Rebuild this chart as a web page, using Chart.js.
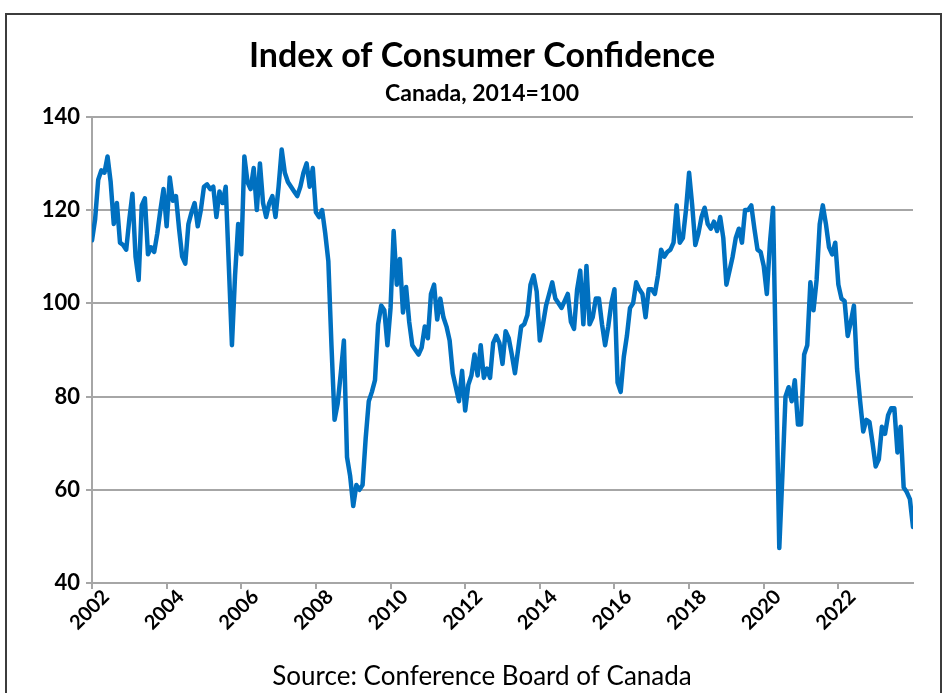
<!DOCTYPE html>
<html><head><meta charset="utf-8">
<script src="https://cdn.jsdelivr.net/npm/chart.js@4/dist/chart.umd.min.js"></script>
<style>
html,body{margin:0;padding:0;background:#fff;width:944px;height:693px;overflow:hidden;}
#wrap{position:absolute;left:0;top:0;width:944px;height:693px;}
#frame{position:absolute;left:5px;top:13px;width:937px;height:720px;border:2px solid #3c3c3c;box-sizing:border-box;pointer-events:none;}
</style></head><body>
<div id="wrap"><canvas id="c" width="944" height="693"></canvas></div>
<div id="frame"></div>
<script>
const chartTitle = 'Index of Consumer Confidence';
const chartSubtitle = 'Canada, 2014=100';
const sourceNote = 'Source: Conference Board of Canada';
const tickLabels = ['2002','2004','2006','2008','2010','2012','2014','2016','2018','2020','2022'];

// Monthly index values (2014=100)
const y2002 = [113.5, 118, 126.5, 128.5, 128, 131.5, 126, 117, 121.5, 113, 112.5, 111.5];
const y2003 = [118, 123.5, 110, 105, 121, 122.5, 110.5, 112, 111, 115, 120, 124.5];
const y2004 = [116.5, 127, 122, 123, 116, 110, 108.5, 117, 119.5, 121.5, 116.5, 120];
const y2005 = [125, 125.5, 124.5, 125, 118.5, 124, 121.5, 125, 108, 91, 106, 117];
const y2006 = [110.5, 131.5, 126, 124.5, 129, 120, 130, 121.5, 118.5, 121.5, 123, 118.5];
const y2007 = [125, 133, 128, 126, 125, 124, 123, 125, 128, 130, 125, 129];
const y2008 = [119.5, 118.5, 120, 115, 109, 91, 75, 78.5, 85, 92, 67, 63];
const y2009 = [56.5, 61, 60, 61, 71, 79, 81, 83.5, 95.5, 99.5, 98.5, 91];
const y2010 = [99, 115.5, 104, 109.5, 98, 103.5, 96, 91, 90, 89, 90.5, 95];
const y2011 = [92.5, 102, 104, 96.5, 101, 97, 95, 92, 85, 82, 79, 85.5];
const y2012 = [77, 82.5, 84.5, 89, 84.5, 91, 84, 86, 84, 91.5, 93, 91.5];
const y2013 = [87, 94, 92.5, 89, 85, 90, 95, 95.5, 97.5, 104, 106, 102.5];
const y2014 = [92, 95.5, 99.5, 102, 104.5, 101, 100, 99, 100.5, 102, 96, 94.5];
const y2015 = [103, 107, 95.5, 108, 95.5, 97, 101, 101, 95.5, 91, 95, 100];
const y2016 = [103, 83, 81, 88.5, 93, 99, 100, 104.5, 103, 102, 97, 103];
const y2017 = [103, 102, 106, 111.5, 110, 111, 111.5, 113, 121, 113, 114, 120];
const y2018 = [128, 121, 112.5, 115, 118.5, 120.5, 117, 116, 117.5, 115.5, 118.5, 114];
const y2019 = [104, 107, 110, 114, 116, 113, 120, 120, 121, 116, 111.5, 111];
const y2020 = [108, 102, 113, 120.5, 84, 47.5, 63, 80, 82, 79, 83.5, 74];
const y2021 = [74, 89, 91, 104.5, 98.5, 105, 117, 121, 117, 112, 110.5, 113];
const y2022 = [104, 101, 100.5, 93, 96, 99.5, 86, 79, 72.5, 75, 74.5, 70];
const y2023 = [65, 66.5, 73.5, 72, 76, 77.5, 77.5, 68, 73.5, 60.5, 59.5, 58];
const y2024 = [52];

const values = [].concat(y2002,y2003,y2004,y2005,y2006,y2007,y2008,y2009,y2010,y2011,y2012,
  y2013,y2014,y2015,y2016,y2017,y2018,y2019,y2020,y2021,y2022,y2023,y2024);
const points = values.map((v, i) => ({x: i, y: v}));

const sourcePlugin = {
  id: 'sourceNote',
  afterDraw(chart) {
    const ctx = chart.ctx;
    ctx.save();
    ctx.fillStyle = '#000';
    ctx.font = 'normal 26px Lato';
    ctx.textAlign = 'center';
    ctx.textBaseline = 'middle';
    ctx.fillText(sourceNote, 482, 677);
    ctx.restore();
  }
};

const gridColor = '#a6a6a6';
new Chart(document.getElementById('c'), {
  type: 'line',
  data: { datasets: [{
    data: points, borderColor: '#0070C0', borderWidth: 4.5, pointRadius: 0,
    tension: 0, fill: false, borderJoinStyle: 'round', borderCapStyle: 'round', yAxisID: 'y'
  }]},
  options: {
    responsive: false, animation: false, devicePixelRatio: 1,
    layout: { padding: { left: 20, right: 0, top: 0, bottom: 0 } },
    plugins: {
      legend: { display: false }, tooltip: { enabled: false },
      title: { display: true, text: chartTitle, color: '#000',
        font: { family: 'Lato', size: 34, weight: 'bold', lineHeight: 1.2 },
        padding: { top: 35.6, bottom: 2 } },
      subtitle: { display: true, text: chartSubtitle, color: '#000',
        font: { family: 'Lato', size: 23, weight: 'bold', lineHeight: 1.2 },
        padding: { top: 1.8, bottom: 9 } }
    },
    scales: {
      x: { type: 'linear', min: 0, max: 264,
        ticks: { stepSize: 24, autoSkip: false, minRotation: 45, maxRotation: 45, color: '#000',
          font: { family: 'Lato', size: 20, weight: 'bold' }, padding: -4, labelOffset: 14,
          callback: v => (v % 24 === 0 && tickLabels[v / 24]) ? tickLabels[v / 24] : null },
        grid: { display: true, drawOnChartArea: false, drawTicks: true, tickLength: 6, color: gridColor, lineWidth: 2 },
        border: { display: true, color: gridColor, width: 2 },
        afterFit: s => { s.height = 110; }
      },
      y: { position: 'left', min: 40, max: 140,
        ticks: { stepSize: 20, color: '#000', font: { family: 'Lato', size: 22, weight: 'bold' }, padding: 6 },
        grid: { color: gridColor, lineWidth: 2, tickLength: 6, drawTicks: true },
        border: { display: true, color: gridColor, width: 2 },
        afterFit: s => { s.width = 72; }
      },
      yRight: { position: 'right', display: true, min: 0, max: 1,
        ticks: { display: false }, grid: { display: false, drawTicks: false }, border: { display: false },
        afterFit: s => { s.width = 31; }
      }
    }
  },
  plugins: [sourcePlugin]
});
</script>
</body></html>
